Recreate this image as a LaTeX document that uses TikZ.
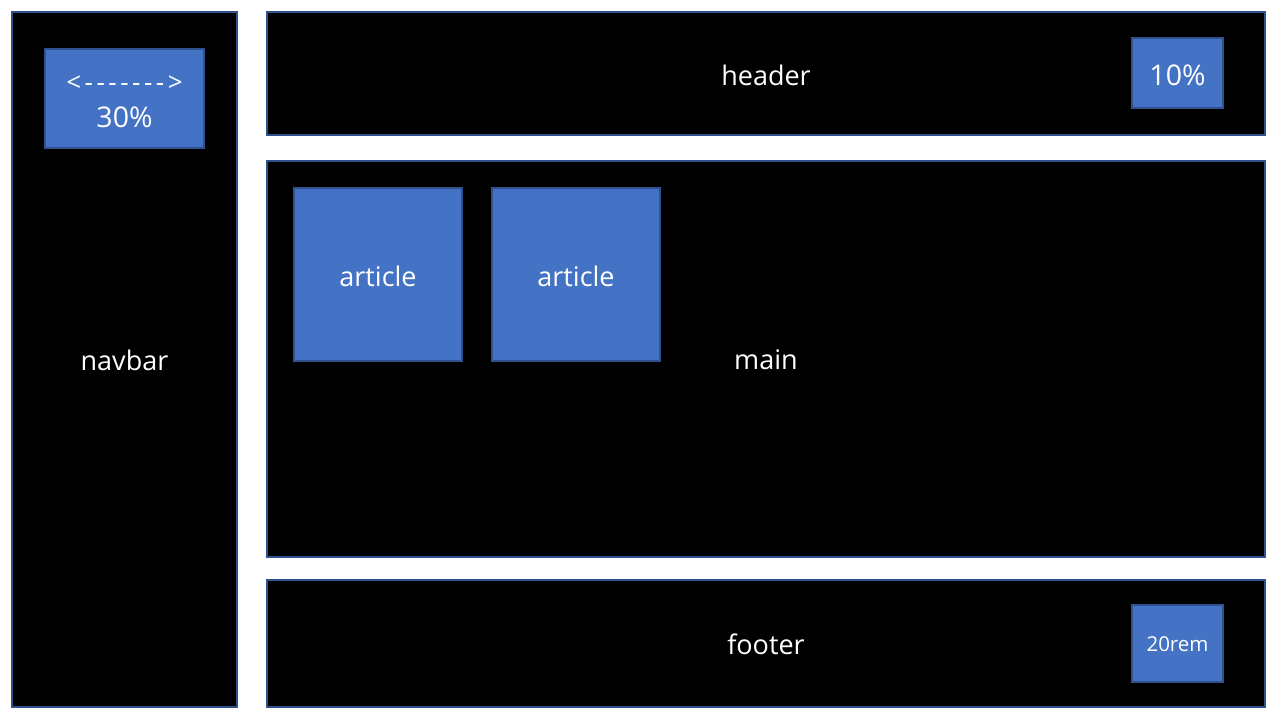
\documentclass[tikz,border=0pt]{standalone}
\usepackage{fontspec}
\setmainfont{Open Sans}
\definecolor{edgeblue}{HTML}{2F528F}
\definecolor{boxblue}{HTML}{4472C4}
\newcommand{\dashk}{\kern3.5pt}
\begin{document}
\begin{tikzpicture}[x=1pt,y=-1pt,
  region/.style={draw=edgeblue,fill=black,line width=1.5pt},
  tag/.style={draw=edgeblue,fill=boxblue,line width=1.5pt},
  lbl/.style={text=white,font=\fontsize{27}{32}\selectfont,inner sep=0pt},
  biglbl/.style={text=white,font=\fontsize{28.5}{32}\selectfont,inner sep=0pt},
  smalllbl/.style={text=white,font=\fontsize{20.5}{24}\selectfont,inner sep=0pt}]
\useasboundingbox (0,0) rectangle (1284,721);
\fill[white] (0,0) rectangle (1284,721);
% page regions
\draw[region] (12,12) rectangle (237,707);
\draw[region] (267,12) rectangle (1265,135);
\draw[region] (267,161) rectangle (1265,557);
\draw[region] (267,580) rectangle (1265,707);
\node[lbl] (navbar) at (124.5,360) {navbar};
\node[lbl] (header) at (766,75) {header};
\node[lbl] (main) at (766,360) {main};
\node[lbl] (footer) at (766,644) {footer};
% inner boxes
\draw[tag] (45,49) rectangle (204,148);
\node[lbl,font=\fontsize{26}{30}\selectfont] (arrow) at (124.5,84)
  {<\dashk-\dashk-\dashk-\dashk-\dashk-\dashk-\dashk-\dashk>};
\node[biglbl] (thirty) at (124.5,117) {30\%};
\draw[tag] (1132,38) rectangle (1223,108);
\node[biglbl] (ten) at (1177.5,75) {10\%};
\draw[tag] (1132,605) rectangle (1223,682);
\node[smalllbl] (rem) at (1177.5,644) {20rem};
\draw[tag] (294,188) rectangle (462,361);
\node[lbl] (art1) at (378,276) {article};
\draw[tag] (492,188) rectangle (660,361);
\node[lbl] (art2) at (576,276) {article};
\end{tikzpicture}
\end{document}
